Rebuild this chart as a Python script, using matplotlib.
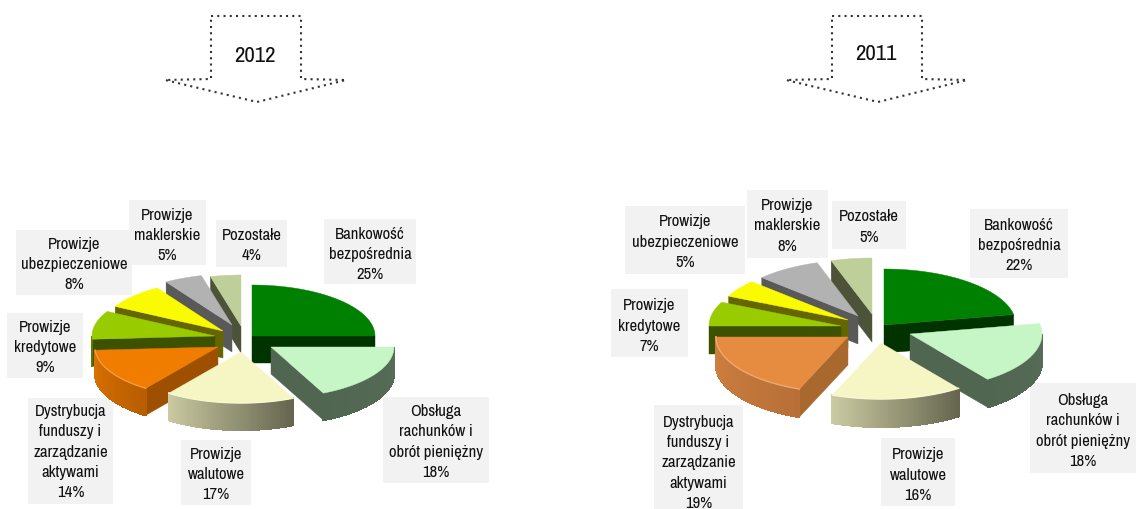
import numpy as np
import matplotlib
matplotlib.use("Agg")
import matplotlib.pyplot as plt
from matplotlib.patches import Polygon, Rectangle
from matplotlib.colors import to_rgb

# ---------- data ----------
categories = ["Bankowość\nbezpośrednia", "Obsługa\nrachunków i\nobrót pieniężny",
              "Prowizje\nwalutowe", "Dystrybucja\nfunduszy i\nzarządzanie\naktywami",
              "Prowizje\nkredytowe", "Prowizje\nubezpieczeniowe",
              "Prowizje\nmaklerskie", "Pozostałe"]
values_2012 = [25, 18, 17, 14, 9, 8, 5, 4]
values_2011 = [22, 18, 16, 19, 7, 5, 8, 5]
years = ["2012", "2011"]

# ---------- layout / style ----------
W, H = 1136, 509
plt.rcParams["font.family"] = ["Archivo Narrow", "Barlow Condensed", "Liberation Sans", "DejaVu Sans"]
fig = plt.figure(figsize=(W / 100, H / 100), dpi=100, facecolor="white")
ax = fig.add_axes([0, 0, 1, 1])
ax.set_xlim(0, W)
ax.set_ylim(H, 0)
ax.axis("off")

top_cols = ["#008000", "#C6F6C6", "#F6F6C4", "#F07C00", "#99CC00", "#FAFA00", "#B2B2B2", "#BFCF9A"]
face_cols = ["#003300", "#506650", "#65654F", "#9E5000", "#3D5200", "#666600", "#595959", "#4D5339"]
arc_cols = [("#003300", "#003300"), ("#506650", "#566C56"), ("#CBCBA3", "#65654F"),
            ("#DE7200", "#B85E00"), ("#5C7A00", "#5C7A00"), ("#808000", "#808000"),
            ("#595959", "#595959"), ("#4D5339", "#4D5339")]
top_2011 = {3: "#E68C40"}
face_2011 = {3: "#A8682E"}
arc_2011 = {3: ("#D08040", "#B87038")}
highlighted = [2, 3]
draw_order = [0, 7, 6, 5, 4, 3, 1, 2]
apex_2012 = [(252, 336), (271, 347), (241, 352), (218, 347), (215, 336), (223, 331), (232, 325), (241, 326)]
apex_2011 = [(884, 325), (910, 334), (881, 343), (848, 337), (841, 326), (848, 320), (858, 316), (872, 314)]
boxes_2012 = [(324, 219, 416, 284), (383, 397, 489, 483), (181, 440, 251, 505), (28, 398, 113, 504),
              (7, 313, 83, 378), (16, 230, 132, 295), (129, 200, 206, 265), (216, 220, 287, 267)]
boxes_2011 = [(970, 209, 1068, 278), (1030, 383, 1136, 473), (881, 438, 955, 506), (654, 405, 743, 509),
              (611, 289, 688, 357), (625, 206, 745, 274), (747, 190, 828, 258), (832, 201, 906, 249)]
text_shift_2012 = [3, 2, 2, 1, 2, 2, 3, 2]
text_shift_2011 = [2, 3, 3, 6, 3, 2, 2, 2]


def pie3d(values, apexes, rx, ry, depth, tops, faces, arcs):
    cum = np.concatenate([[0], np.cumsum(values)])
    angles = np.radians(90 - 3.6 * cum)
    for i in draw_order:
        a0, a1 = angles[i], angles[i + 1]
        cx, cy = apexes[i]
        ts = np.linspace(a0, a1, 100)
        xs = cx + rx * np.cos(ts)
        ys = cy - ry * np.sin(ts)
        z = 2 + draw_order.index(i) * 0.1
        # cut faces
        for a, visible in ((a0, np.cos(a0) < -1e-6), (a1, np.cos(a1) > 1e-6)):
            if visible:
                ex, ey = cx + rx * np.cos(a), cy - ry * np.sin(a)
                ax.add_patch(Polygon([(cx, cy), (ex, ey), (ex, ey + depth), (cx, cy + depth)],
                                     fc=faces[i], ec=faces[i], lw=0.3, zorder=z))
        # outer wall with a left-to-right gradient
        mask = np.sin(ts) < 0
        if mask.any():
            x_v, y_v = xs[mask], ys[mask]
            order = np.argsort(x_v)
            x_v, y_v = x_v[order], y_v[order]
            c0, c1 = np.array(to_rgb(arcs[i][0])), np.array(to_rgb(arcs[i][1]))
            for j in range(len(x_v) - 1):
                f = (j + 0.5) / (len(x_v) - 1)
                col = c0 + (c1 - c0) * f
                ax.add_patch(Polygon([(x_v[j], y_v[j]), (x_v[j + 1], y_v[j + 1]),
                                      (x_v[j + 1], y_v[j + 1] + depth), (x_v[j], y_v[j] + depth)],
                                     fc=col, ec=col, lw=0.8, antialiased=False, zorder=z))
        # top surface
        ax.add_patch(Polygon(np.column_stack([np.r_[cx, xs], np.r_[cy, ys]]),
                             fc=tops[i], ec=tops[i], lw=0.3, zorder=z + 0.05))
        if i in highlighted:
            light = np.array(to_rgb(tops[i])) * 0.75 + 0.25
            ax.plot(xs, ys, color=light, lw=1.0, zorder=z + 0.06)


def arrow(dx, dy_text, label):
    px = np.array([211, 301, 301, 346, 257, 165, 211, 211]) + dx
    py = np.array([16, 16, 79, 80, 102, 80, 79, 16])
    ax.plot(px, py, color="#333333", lw=1.5, ls=(0, (1, 2)), zorder=5)
    ax.text(255 + dx, 56 + dy_text, label, ha="center", va="center", fontsize=16.5, color="#111111", zorder=6)


def labels(values, boxes, shifts):
    for (x0, y0, x1, y1) in boxes:
        ax.add_patch(Rectangle((x0, y0), x1 - x0, y1 - y0, fc="#F2F2F2", ec="none", zorder=1))
    for name, v, (x0, y0, x1, y1), s in zip(categories, values, boxes, shifts):
        ax.text((x0 + x1) / 2, (y0 + y1) / 2 + s, f"{name}\n{v}%", ha="center", va="center",
                fontsize=12, linespacing=1.42, color="#111111", zorder=6)


arrow(0, 0, years[0])
arrow(621, -2, years[1])
labels(values_2012, boxes_2012, text_shift_2012)
labels(values_2011, boxes_2011, text_shift_2011)
pie3d(values_2012, apex_2012, 123, 51, 27, top_cols, face_cols, arc_cols)
t11 = [top_2011.get(i, c) for i, c in enumerate(top_cols)]
f11 = [face_2011.get(i, c) for i, c in enumerate(face_cols)]
a11 = [arc_2011.get(i, c) for i, c in enumerate(arc_cols)]
pie3d(values_2011, apex_2011, 132, 56, 28, t11, f11, a11)

fig.savefig("out.png", dpi=100, facecolor="white")
